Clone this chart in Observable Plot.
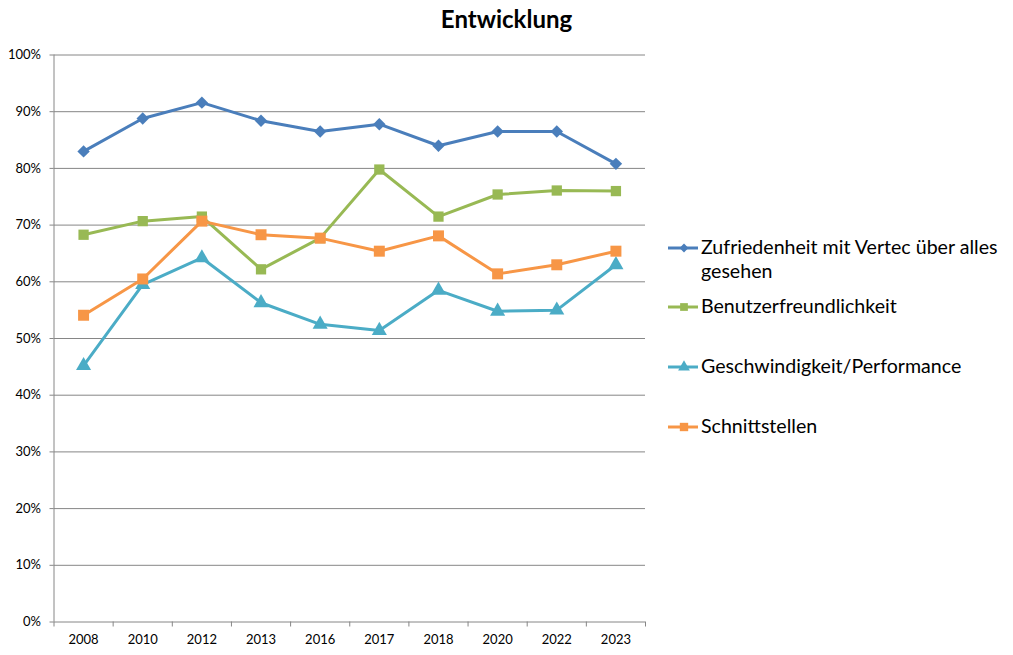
<!DOCTYPE html>
<html>
<head>
<meta charset="utf-8">
<script src="https://cdn.jsdelivr.net/npm/d3@7"></script>
<script src="https://cdn.jsdelivr.net/npm/@observablehq/plot@0.6"></script>
<style>
  html, body { margin: 0; padding: 0; background: #fff; }
  #wrap { position: relative; width: 1013px; height: 655px; font-family: Lato, "Open Sans", sans-serif; }
  #title { position: absolute; left: 0; width: 1013px; top: 4px; text-align: center; font-weight: bold; font-size: 24px; color: #000; }
  #legend { position: absolute; left: 668px; top: 0; }
  .item { position: absolute; display: flex; align-items: flex-start; white-space: nowrap; font-size: 19.6px; line-height: 24px; color: #000; }
  .item svg { flex: none; }
</style>
</head>
<body>
<div id="wrap">
  <div id="chart"></div>
  <div id="title">Entwicklung</div>
  <div id="legend"></div>
</div>
<script>
const years = ["2008", "2010", "2012", "2013", "2016", "2017", "2018", "2020", "2022", "2023"];
const zufriedenheit = [83.0, 88.8, 91.6, 88.4, 86.5, 87.8, 84.0, 86.5, 86.5, 80.8];
const benutzerfreundlichkeit = [68.3, 70.7, 71.5, 62.2, 67.7, 79.8, 71.5, 75.4, 76.1, 76.0];
const geschwindigkeit = [45.2, 59.5, 64.2, 56.3, 52.5, 51.4, 58.5, 54.8, 55.0, 63.0];
const schnittstellen = [54.1, 60.5, 70.7, 68.3, 67.7, 65.4, 68.1, 61.4, 63.0, 65.4];
const yTicks = [0, 10, 20, 30, 40, 50, 60, 70, 80, 90, 100];

const seriesNames = ["Zufriedenheit mit Vertec über alles gesehen", "Benutzerfreundlichkeit", "Geschwindigkeit/Performance", "Schnittstellen"];
const seriesValues = [zufriedenheit, benutzerfreundlichkeit, geschwindigkeit, schnittstellen];
const seriesColors = ["#4a7ebb", "#98b954", "#4bacc6", "#f79646"];
const seriesSymbols = ["diamond2", "square", "triangle", "square"];
const seriesR = [5.6, 5.8, 5.6, 6.2];

const idx = years.map((_, i) => i);
const bounds = d3.range(years.length + 1).map(i => i - 0.5);

const marks = [
  Plot.ruleY(yTicks, {stroke: "#868686", strokeWidth: 1}),
  Plot.ruleX([bounds[0]], {stroke: "#868686", strokeWidth: 1}),
  Plot.axisY({ticks: yTicks, tickFormat: d => d + "%", tickSize: 4, tickPadding: 9, stroke: "#868686", fill: "#000", fontSize: 13, label: null}),
  Plot.axisX({ticks: idx, tickFormat: i => years[i], tickSize: 0, tickPadding: 13, fill: "#000", fontSize: 13, label: null}),
  Plot.axisX({ticks: bounds, tickFormat: () => "", tickSize: 5, stroke: "#868686", label: null})
];
seriesValues.forEach((vals, s) => {
  const data = vals.map((v, i) => ({i, v}));
  marks.push(Plot.line(data, {x: "i", y: "v", stroke: seriesColors[s], strokeWidth: 3}));
  marks.push(Plot.dot(data, {x: "i", y: "v", symbol: seriesSymbols[s], r: seriesR[s], fill: seriesColors[s], stroke: "none"}));
});

const chart = Plot.plot({
  width: 1013,
  height: 655,
  marginLeft: 53.5,
  marginRight: 368,
  marginTop: 54.5,
  marginBottom: 33.5,
  style: {fontFamily: "Lato, 'Open Sans', sans-serif", fontSize: "13px", background: "transparent"},
  x: {domain: [-0.5, 9.5], type: "linear", label: null},
  y: {domain: [0, 100], label: null},
  marks
});
document.getElementById("chart").appendChild(chart);

// legend
const legendTops = [235, 294, 354, 414];
const legend = document.getElementById("legend");
const symMap = {diamond2: d3.symbolDiamond2, square: d3.symbolSquare, triangle: d3.symbolTriangle};
seriesNames.forEach((name, s) => {
  const item = document.createElement("div");
  item.className = "item";
  item.style.top = legendTops[s] + "px";
  const svg = d3.create("svg").attr("width", 32).attr("height", 24);
  svg.append("line").attr("x1", 0).attr("x2", 30).attr("y1", 13).attr("y2", 13)
     .attr("stroke", seriesColors[s]).attr("stroke-width", 3);
  const sz = [50, 60, 60, 70][s];
  svg.append("path").attr("d", d3.symbol(symMap[seriesSymbols[s]], sz)()).attr("transform", "translate(16,13)").attr("fill", seriesColors[s]);
  item.appendChild(svg.node());
  const label = document.createElement("div");
  if (s === 0) {
    label.innerHTML = "Zufriedenheit mit Vertec über alles<br>gesehen";
  } else {
    label.textContent = name;
  }
  label.style.marginLeft = "1px";
  item.appendChild(label);
  legend.appendChild(item);
});
</script>
</body>
</html>
